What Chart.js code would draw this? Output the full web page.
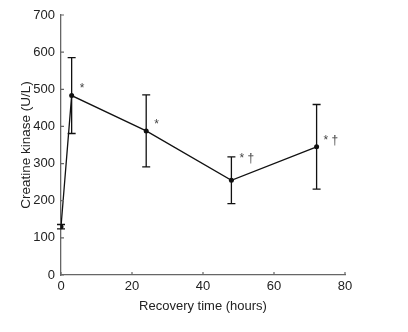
<!DOCTYPE html>
<html>
<head>
<meta charset="utf-8">
<script src="https://cdn.jsdelivr.net/npm/chart.js@4"></script>
<style>
  html,body{margin:0;padding:0;background:#fff;}
  #wrap{width:408px;height:332px;position:relative;}
</style>
</head>
<body>
<div id="wrap"><canvas id="ck"></canvas></div>
<script>
// data
const hours = [0, 3, 24, 48, 72];
const ckMean = [130, 483, 388, 255, 345];
const ckSd = [6, 102, 97, 63, 114];
const sigMarks = ['', '*', '*', '* \u2020', '* \u2020'];
const xTicks = [0, 20, 40, 60, 80];
const yTicks = [0, 100, 200, 300, 400, 500, 600, 700];

// pixel nudges for the significance marks
const markOffsets = [[0,0],[8,-7],[8,-6],[8,-22],[7,-6]];

const FONT = 'Liberation Sans, Arial, sans-serif';

const errorBars = {
  id: 'errorBars',
  afterDatasetsDraw(chart){
    const {ctx, scales:{x, y}, chartArea} = chart;
    ctx.save();
    // inward tick marks
    ctx.strokeStyle = '#666';
    ctx.lineWidth = 1.2;
    ctx.beginPath();
    x.ticks.forEach(t => {
      const px = x.getPixelForValue(t.value);
      ctx.moveTo(px, chartArea.bottom); ctx.lineTo(px, chartArea.bottom - 3);
    });
    y.ticks.forEach(t => {
      const py = y.getPixelForValue(t.value);
      ctx.moveTo(chartArea.left, py); ctx.lineTo(chartArea.left + 3, py);
    });
    ctx.stroke();

    ctx.strokeStyle = '#111';
    ctx.lineWidth = 1.3;
    hours.forEach((h, i) => {
      const px = x.getPixelForValue(h);
      const top = y.getPixelForValue(ckMean[i] + ckSd[i]);
      const bot = y.getPixelForValue(ckMean[i] - ckSd[i]);
      ctx.beginPath();
      ctx.moveTo(px, top); ctx.lineTo(px, bot);
      ctx.moveTo(px-4, top); ctx.lineTo(px+4, top);
      ctx.moveTo(px-4, bot); ctx.lineTo(px+4, bot);
      ctx.stroke();
    });
    // significance marks
    ctx.fillStyle = '#444';
    ctx.font = '12px ' + FONT;
    ctx.textBaseline = 'middle';
    hours.forEach((h, i) => {
      if(!sigMarks[i]) return;
      const px = x.getPixelForValue(h) + markOffsets[i][0];
      const py = y.getPixelForValue(ckMean[i]) + markOffsets[i][1];
      ctx.fillText(sigMarks[i], px, py);
    });
    ctx.restore();
  }
};

new Chart(document.getElementById('ck'), {
  type: 'scatter',
  data: {
    datasets: [{
      data: hours.map((h, i) => ({x: h, y: ckMean[i]})),
      showLine: true,
      borderColor: '#111',
      borderWidth: 1.3,
      backgroundColor: '#111',
      pointRadius: 2.5,
      pointBorderWidth: 0
    }]
  },
  options: {
    responsive: true,
    maintainAspectRatio: false,
    animation: false,
    layout: { padding: { left: 0, right: 63, top: 15, bottom: 0 } },
    plugins: { legend: { display: false }, tooltip: { enabled: false } },
    scales: {
      x: {
        type: 'linear', min: 0, max: 80,
        afterBuildTicks: s => { s.ticks = xTicks.map(v => ({value: v})); },
        afterFit: s => { s.height = 57; },
        border: { color: '#666', width: 1.3 },
        grid: { drawOnChartArea: false, drawTicks: false },
        ticks: { color: '#222', font: { family: FONT, size: 13 }, padding: 4, maxRotation: 0 },
        title: { display: true, text: 'Recovery time (hours)', color: '#222', font: { family: FONT, size: 13 }, padding: { top: 4, bottom: 18 } }
      },
      y: {
        type: 'linear', min: 0, max: 700,
        afterBuildTicks: s => { s.ticks = yTicks.map(v => ({value: v})); },
        afterFit: s => { s.width = 61; },
        border: { color: '#666', width: 1.3 },
        grid: { drawOnChartArea: false, drawTicks: false },
        ticks: { color: '#222', font: { family: FONT, size: 13 }, padding: 6 },
        title: { display: true, text: 'Creatine kinase (U/L)', color: '#222', font: { family: FONT, size: 13.5 }, padding: { top: 18, bottom: 4 } }
      }
    }
  },
  plugins: [errorBars]
});
</script>
</body>
</html>
